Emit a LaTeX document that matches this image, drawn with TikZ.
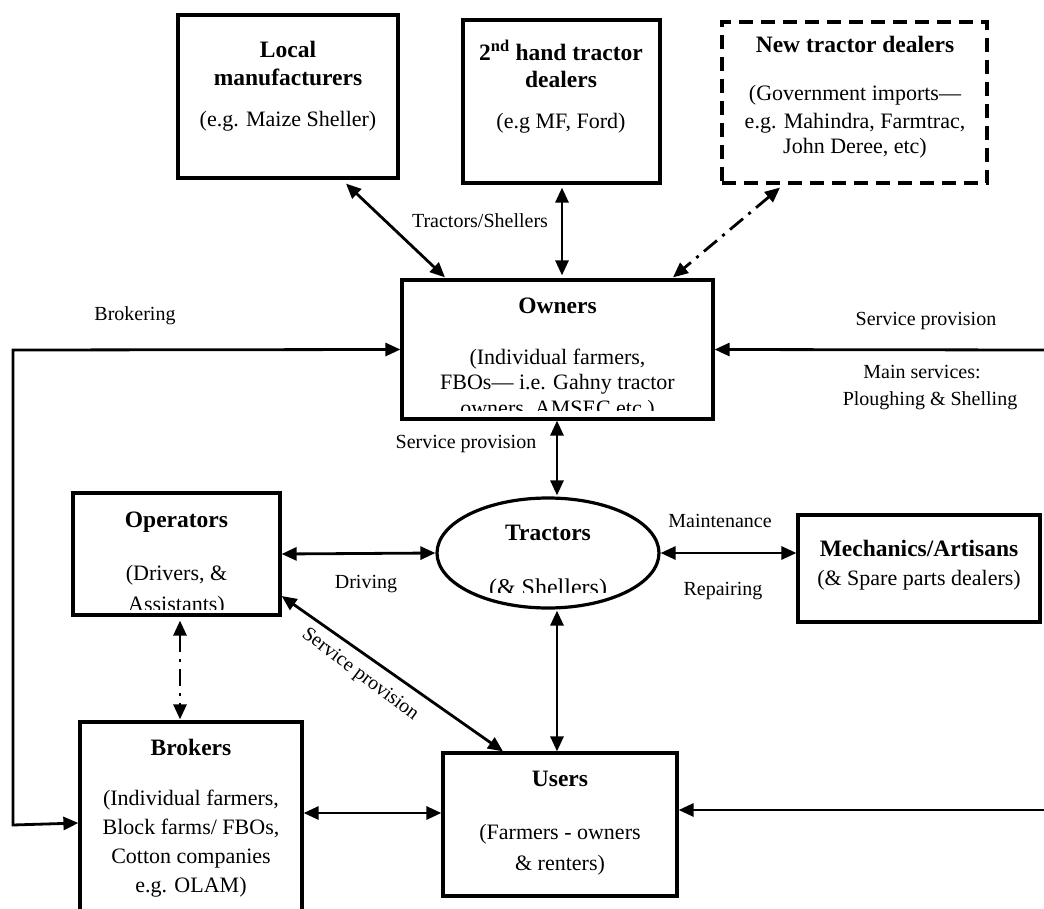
\documentclass[tikz,border=0pt]{standalone}
\usepackage{fontspec}
\setmainfont{Liberation Serif}
\usetikzlibrary{arrows.meta,calc,shapes.geometric}
\begin{document}
\begin{tikzpicture}[x=1pt,y=-1pt,
 box/.style={draw, line width=3.2pt, rectangle, inner sep=0pt},
 hd/.style={font=\fontsize{23.5}{28}\selectfont\bfseries, anchor=base, inner sep=0pt},
 bd/.style={font=\fontsize{22}{26}\selectfont, anchor=base, inner sep=0pt},
 lb/.style={font=\fontsize{20}{24}\selectfont, anchor=base, inner sep=0pt},
 arr/.style={line width=2.8pt, -{Triangle[length=15pt,width=13pt]}},
 biarr/.style={line width=2.8pt, {Triangle[length=15pt,width=13pt]}-{Triangle[length=15pt,width=13pt]}},
 dd/.style={dash pattern=on 17pt off 7pt on 3pt off 7pt}]
\useasboundingbox (0,0) rectangle (1044,909);
\clip (0,0) rectangle (1044,909);

% ---------- boxes ----------
\node[box, minimum width=220pt, minimum height=163pt] (local) at (288,96.5) {};
\node[box, minimum width=197pt, minimum height=163pt] (second) at (561.5,101.5) {};
\node[box, dash pattern=on 14pt off 8pt, minimum width=265pt, minimum height=161pt] (newd) at (854.5,102.5) {};
\node[box, minimum width=311pt, minimum height=139pt] (owners) at (557.5,349.5) {};
\node[box, minimum width=207pt, minimum height=122pt] (operators) at (176.5,554) {};
\node[draw, line width=3.2pt, ellipse, inner sep=0pt, minimum width=222pt, minimum height=110pt] (tractors) at (548,553) {};
\node[box, minimum width=242pt, minimum height=107pt] (mechanics) at (919,568.5) {};
\node[box, minimum width=222pt, minimum height=208pt] (brokers) at (191,826) {};
\node[box, minimum width=234pt, minimum height=143pt] (users) at (560,824.5) {};

% ---------- box texts ----------
\node[hd] (tl1) at (288,58) {Local};
\node[hd] (tl2) at (288,86) {manufacturers};
\node[bd] (tl3) at (288,127) {(e.g. Maize Sheller)};

\node[hd] (ts1) at (561,61) {2\textsuperscript{nd} hand tractor};
\node[hd] (ts2) at (561,88) {dealers};
\node[bd] (ts3) at (561,129) {(e.g MF, Ford)};

\node[hd] (tn1) at (855,53) {New tractor dealers};
\node[bd] (tn2) at (855,101) {(Government imports—};
\node[bd] (tn3) at (855,129) {e.g. Mahindra, Farmtrac,};
\node[bd] (tn4) at (855,154) {John Deree, etc)};

\begin{scope}
\clip (owners.north west) rectangle ([yshift=10.5pt]owners.south east);
\node[hd] (to1) at (557.5,313) {Owners};
\node[bd] (to2) at (557.5,364) {(Individual farmers,};
\node[bd] (to3) at (557.5,389) {FBOs— i.e. Gahny tractor};
\node[bd] (to4) at (557.5,415) {owners, AMSEC etc.)};
\end{scope}

\begin{scope}
\clip (operators.north west) rectangle ([yshift=7pt]operators.south east);
\node[hd] (tp1) at (176.5,527) {Operators};
\node[bd] (tp2) at (176.5,580) {(Drivers, \&};
\node[bd] (tp3) at (176.5,611) {Assistants)};
\end{scope}

\begin{scope}
\clip (430,480) rectangle (670,592);
\node[hd] (tt1) at (548,540) {Tractors};
\node[font=\fontsize{24}{28}\selectfont, anchor=base, inner sep=0pt] (tt2) at (548,595) {(\& Shellers)};
\end{scope}

\node[hd] (tm1) at (919,556) {Mechanics/Artisans};
\node[bd] (tm2) at (919,585) {(\& Spare parts dealers)};

\node[hd] (tb1) at (191,755) {Brokers};
\node[bd] (tb2) at (191,805) {(Individual farmers,};
\node[bd] (tb3) at (191,834) {Block farms/ FBOs,};
\node[bd] (tb4) at (191,863) {Cotton companies};
\node[bd] (tb5) at (191,892) {e.g. OLAM)};

\node[hd] (tu1) at (560,786) {Users};
\node[bd] (tu2) at (560,839) {(Farmers - owners};
\node[bd] (tu3) at (560,870) {\& renters)};

% ---------- connector labels ----------
\node[lb] (l1) at (480,228) {Tractors/Shellers};
\node[lb] (l2) at (135,320) {Brokering};
\node[lb] (l3) at (926,326) {Service provision};
\node[lb] (l4) at (922,378) {Main services:};
\node[lb] (l5) at (930,405) {Ploughing \& Shelling};
\node[lb] (l6) at (466,448) {Service provision};
\node[lb] (l7) at (720,527) {Maintenance};
\node[lb] (l8) at (366,588) {Driving};
\node[lb] (l9) at (723,595) {Repairing};
\node[font=\fontsize{20}{24}\selectfont, inner sep=0pt, rotate=-37] (l10) at (360,675) {Service provision};

% ---------- free ends ----------
\coordinate (lt) at (13,350);
\coordinate (lb) at (13,825);
\coordinate (rt) at (1044,350);
\coordinate (rb) at (1044,810);

% ---------- connectors ----------
\draw[biarr] ([xshift=58pt,yshift=-4pt]local.south) -- ([xshift=-112.5pt,yshift=1pt]owners.north);
\draw[biarr] ([xshift=0.5pt,yshift=-3pt]second.south) -- ([xshift=4.5pt,yshift=3pt]owners.north);
\draw[biarr, dd] ([xshift=-74.5pt,yshift=-3pt]newd.south) -- ([xshift=115.5pt,yshift=1pt]owners.north);

\draw[biarr] (owners.west) -- (lt) -- (lb) -- ([yshift=3pt]brokers.west);
\draw[arr] (rt) -- (owners.east);
\draw[arr] (rb) -- ([yshift=14.5pt]users.east);

\draw[biarr] ([xshift=-0.5pt]owners.south) -- ([xshift=-0.5pt,yshift=1pt]owners.south |- tractors.north);
\draw[biarr] (operators.east) -- (tractors.west);
\draw[biarr] (tractors.east) -- (tractors.east -| mechanics.west);
\draw[biarr] ([yshift=-42pt]operators.east) -- ([xshift=-57pt]users.north);
\draw[biarr] ([xshift=-3pt,yshift=-1pt]users.north |- tractors.south) -- ([xshift=-3pt]users.north);
\draw[biarr] ([yshift=13pt]brokers.east) -- ([yshift=13pt]brokers.east -| users.west);
\draw[biarr, dd] ([xshift=3.5pt,yshift=-4pt]operators.south) -- ([xshift=3.5pt,yshift=1pt]operators.south |- brokers.north);
\end{tikzpicture}
\end{document}
